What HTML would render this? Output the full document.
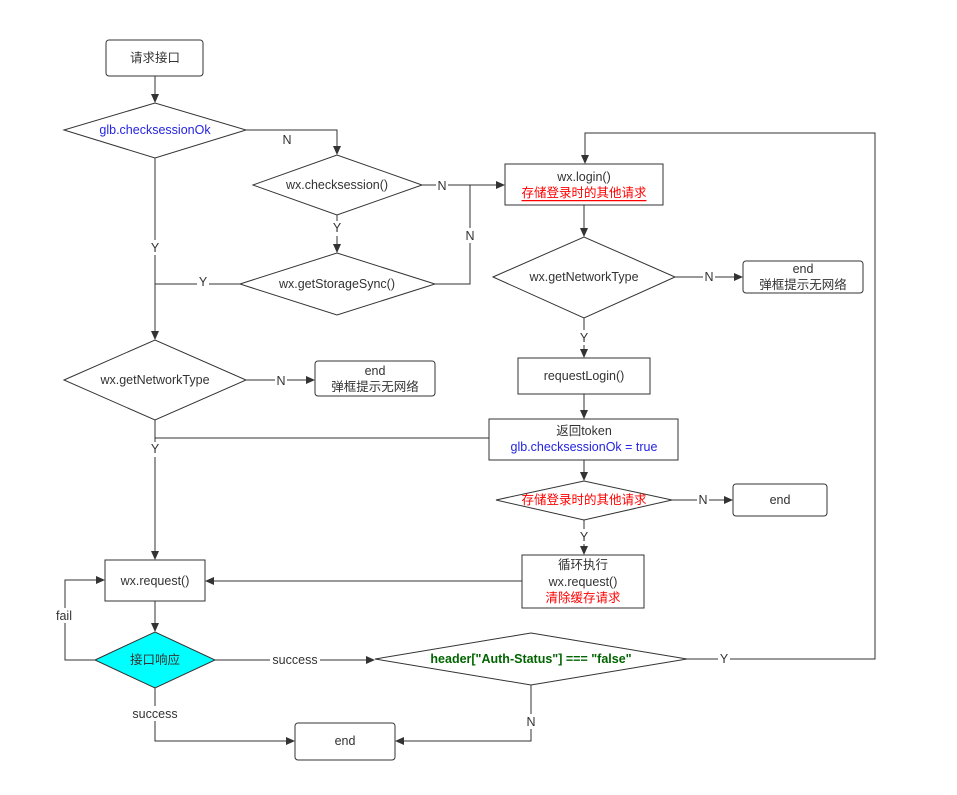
<!DOCTYPE html>
<html><head><meta charset="utf-8"><style>
html,body{margin:0;padding:0;background:#fff;}
svg{display:block;font-family:"Liberation Sans","Noto Sans CJK SC",sans-serif;font-size:12.5px;}
text{dominant-baseline:central;text-anchor:middle;fill:#333;}
.l{fill:none;stroke:#333;stroke-width:1;}
.s{fill:#fff;stroke:#333;stroke-width:1;}
.lb{fill:#fff;}
</style></head><body>
<svg width="957" height="795" viewBox="0 0 957 795">
<defs><marker id="a" markerWidth="10" markerHeight="10" refX="8" refY="5" orient="auto" markerUnits="userSpaceOnUse"><path d="M0,1 L9,5 L0,9 Z" fill="#333"/></marker></defs>

<!-- connectors -->
<path class="l" d="M155,76 V102" marker-end="url(#a)"/>
<path class="l" d="M246,130 H337 V154" marker-end="url(#a)"/>
<path class="l" d="M422,185 H504" marker-end="url(#a)"/>
<path class="l" d="M337,215 V252" marker-end="url(#a)"/>
<path class="l" d="M435,284 H470 V185"/>
<path class="l" d="M240,284 H155"/>
<path class="l" d="M155,158 V339" marker-end="url(#a)"/>
<path class="l" d="M246,380 H314" marker-end="url(#a)"/>
<path class="l" d="M155,420 V559" marker-end="url(#a)"/>
<path class="l" d="M489,438 H155"/>
<path class="l" d="M155,601 V631" marker-end="url(#a)"/>
<path class="l" d="M95,660 H65 V580 H104" marker-end="url(#a)"/>
<path class="l" d="M215,660 H374" marker-end="url(#a)"/>
<path class="l" d="M155,688 V741 H294" marker-end="url(#a)"/>
<path class="l" d="M687,659 H875 V133 H585 V163" marker-end="url(#a)"/>
<path class="l" d="M531,685 V741 H396" marker-end="url(#a)"/>
<path class="l" d="M584,205 V236" marker-end="url(#a)"/>
<path class="l" d="M675,277 H742" marker-end="url(#a)"/>
<path class="l" d="M584,318 V357" marker-end="url(#a)"/>
<path class="l" d="M584,394 V418" marker-end="url(#a)"/>
<path class="l" d="M584,460 V480" marker-end="url(#a)"/>
<path class="l" d="M672,500 H732" marker-end="url(#a)"/>
<path class="l" d="M584,520 V554" marker-end="url(#a)"/>
<path class="l" d="M522,581 H206" marker-end="url(#a)"/>

<!-- labels on lines -->
<rect class="lb" x="436" y="178" width="12" height="15"/><text x="442" y="186">N</text>
<text x="287" y="140">N</text>
<rect class="lb" x="331" y="221" width="12" height="15"/><text x="337" y="228">Y</text>
<rect class="lb" x="464" y="228" width="12" height="15"/><text x="470" y="236">N</text>
<rect class="lb" x="197" y="275" width="12" height="15"/><text x="203" y="282">Y</text>
<rect class="lb" x="149" y="240" width="12" height="15"/><text x="155" y="248">Y</text>
<rect class="lb" x="275" y="373" width="12" height="15"/><text x="281" y="381">N</text>
<rect class="lb" x="149" y="442" width="12" height="15"/><text x="155" y="449">Y</text>
<rect class="lb" x="52" y="608" width="26" height="15"/><text x="64" y="616">fail</text>
<rect class="lb" x="270" y="652" width="50" height="15"/><text x="295" y="660">success</text>
<rect class="lb" x="128" y="706" width="54" height="15"/><text x="155" y="714">success</text>
<rect class="lb" x="718" y="651" width="12" height="15"/><text x="724" y="659">Y</text>
<rect class="lb" x="525" y="714" width="12" height="15"/><text x="531" y="722">N</text>
<rect class="lb" x="703" y="269" width="12" height="15"/><text x="709" y="277">N</text>
<rect class="lb" x="578" y="330" width="12" height="15"/><text x="584" y="338">Y</text>
<rect class="lb" x="697" y="492" width="12" height="15"/><text x="703" y="500">N</text>
<rect class="lb" x="578" y="529" width="12" height="15"/><text x="584" y="537">Y</text>

<!-- nodes -->
<rect class="s" x="106" y="40" width="97" height="36" rx="3"/><text x="155" y="58">请求接口</text>
<polygon class="s" points="64,130 155,103 246,130 155,158"/><text x="155" y="130" style="fill:#2424e0">glb.checksessionOk</text>
<polygon class="s" points="253,185 337,155 422,185 337,215"/><text x="337" y="185">wx.checksession()</text>
<polygon class="s" points="240,284 337,253 435,284 337,315"/><text x="337" y="284">wx.getStorageSync()</text>
<polygon class="s" points="64,380 155,340 246,380 155,420"/><text x="155" y="380">wx.getNetworkType</text>
<rect class="s" x="315" y="361" width="120" height="35" rx="3"/><text x="375" y="371">end</text><text x="375" y="387">弹框提示无网络</text>
<rect class="s" x="105" y="560" width="100" height="41"/><text x="155" y="581">wx.request()</text>
<polygon points="95,660 155,632 215,660 155,688" fill="#00ffff" stroke="#333"/><text x="155" y="660">接口响应</text>
<rect class="s" x="295" y="723" width="100" height="37" rx="3"/><text x="345" y="741">end</text>
<polygon class="s" points="375,659 531,633 687,659 531,685"/><text x="531" y="659" style="fill:#006400;font-weight:bold">header["Auth-Status"] === "false"</text>
<rect class="s" x="505" y="164" width="158" height="41"/><text x="584" y="177">wx.login()</text><text x="584" y="193" style="fill:#ff0000;text-decoration:underline">存储登录时的其他请求</text>
<polygon class="s" points="493,277 584,237 675,277 584,318"/><text x="584" y="277">wx.getNetworkType</text>
<rect class="s" x="743" y="261" width="120" height="32" rx="3"/><text x="803" y="269">end</text><text x="803" y="285">弹框提示无网络</text>
<rect class="s" x="518" y="358" width="132" height="36"/><text x="584" y="376">requestLogin()</text>
<rect class="s" x="489" y="419" width="189" height="41"/><text x="584" y="431">返回token</text><text x="584" y="447" style="fill:#2424e0">glb.checksessionOk = true</text>
<polygon class="s" points="496,500 584,481 672,500 584,520"/><text x="584" y="500" style="fill:#ff0000">存储登录时的其他请求</text>
<rect class="s" x="733" y="484" width="94" height="32" rx="3"/><text x="780" y="500">end</text>
<rect class="s" x="522" y="555" width="122" height="53"/><text x="583" y="565">循环执行</text><text x="583" y="582">wx.request()</text><text x="583" y="598" style="fill:#ff0000">清除缓存请求</text>
</svg>
</body></html>
